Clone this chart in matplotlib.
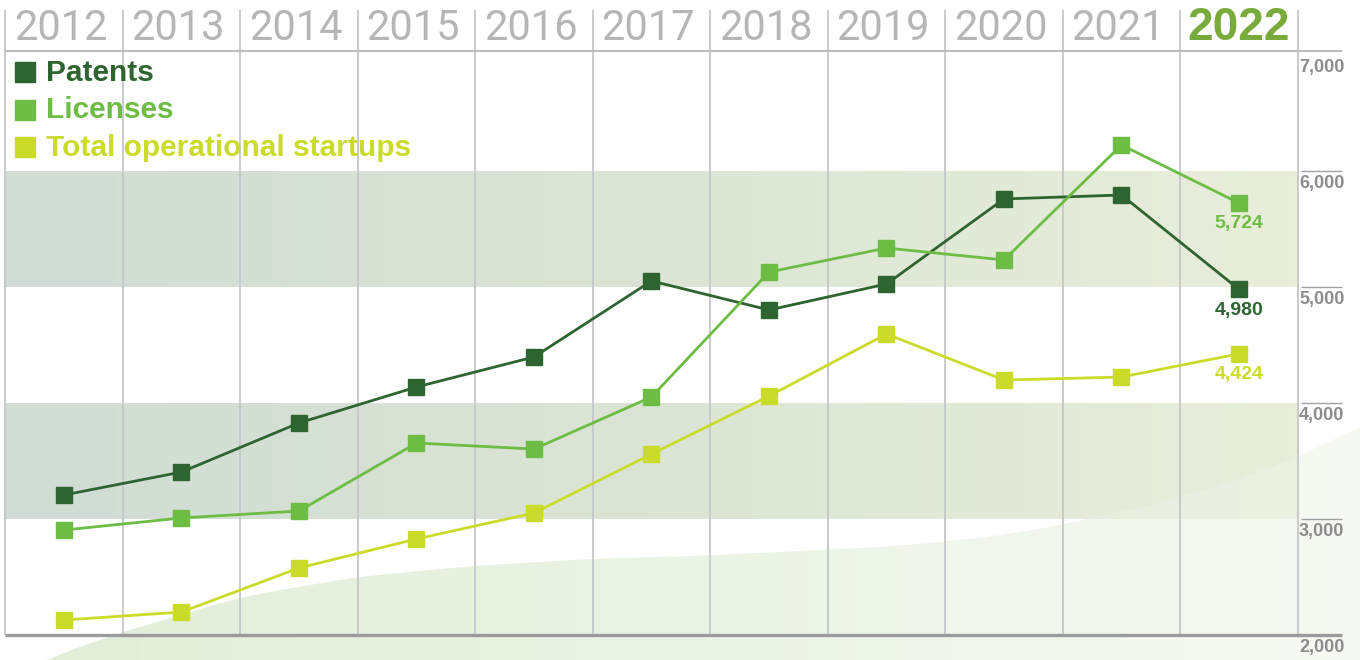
import numpy as np
import matplotlib
matplotlib.use("Agg")
import matplotlib.pyplot as plt
from matplotlib.colors import LinearSegmentedColormap
from matplotlib.patches import Polygon

# data
years = list(range(2012, 2023))
patents = [3207, 3405, 3828, 4138, 4397, 5052, 4802, 5026, 5759, 5793, 4980]
licenses = [2905, 3009, 3069, 3655, 3603, 4052, 5129, 5336, 5233, 6224, 5724]
startups = [2129, 2198, 2578, 2828, 3052, 3560, 4060, 4595, 4198, 4224, 4424]
series_names = ["Patents", "Licenses", "Total operational startups"]
yticks = [2000, 3000, 4000, 5000, 6000, 7000]
bands = [(3000, 4000), (5000, 6000)]

colors = ["#2d6430", "#6dbd45", "#cbdb2a"]
grey_txt = "#8c8c8e"
year_grey = "#b6b6b9"
hi_green = "#79ab3c"


# pixel helpers for the layout (1360x660 canvas)
def px_x(p):
    return 2012 + (p - 64) / 117.5


def px_y(p):
    return 2000 + (635 - p) / 0.116


fig = plt.figure(figsize=(13.6, 6.6), dpi=100)
ax = fig.add_axes([0, 0, 1, 1])
ax.axis("off")

# background swoosh
sx = np.array([20, 45, 107, 241, 357, 473, 591, 700, 900, 1000, 1062, 1180, 1280, 1360, 1420])
sy = np.array([672, 660, 637, 597, 577, 566, 559, 556, 546, 536, 525, 498, 465, 427, 400])
xx = np.linspace(20, 1420, 600)
yy = np.interp(xx, sx, sy)
k = np.ones(31) / 31
yy = np.convolve(np.pad(yy, 15, mode="edge"), k, mode="valid")
poly = np.column_stack([px_x(xx), px_y(yy)])
poly = np.vstack([poly, [[px_x(1420), px_y(700)], [px_x(20), px_y(700)]]])
swoosh_cmap = LinearSegmentedColormap.from_list("sw", ["#e2eed7", "#ecf4e6", "#f8faf5"])
grad = np.linspace(0, 1, 256)[None, :]
for z, a in [(0.5, 1.0), (1.5, 0.35)]:
    patch = Polygon(poly, closed=True, facecolor="none", edgecolor="none")
    ax.add_patch(patch)
    im = ax.imshow(grad, cmap=swoosh_cmap, extent=(px_x(20), px_x(1420), px_y(700), px_y(380)),
                   aspect="auto", zorder=z, alpha=a)
    im.set_clip_path(patch)

# shaded bands
band_cmap = LinearSegmentedColormap.from_list("bd", ["#d0dcd4", "#dce5d5", "#e8eeda"])
for lo, hi in bands:
    ax.imshow(grad, cmap=band_cmap, extent=(2011.5, 2022.5, lo, hi), aspect="auto", zorder=1)

# column dividers
bounds = np.arange(2011.5, 2023.0, 1.0)
ax.vlines(bounds, 2000, px_y(10), color="#c6c6c9", lw=1.3, zorder=2)
ax.hlines(px_y(51), px_x(5), px_x(1342), color="#bdbdc0", lw=1.5, zorder=2)
ax.hlines(2000, px_x(5), px_x(1342), color="#9b9b9d", lw=2.4, zorder=3)

# right axis labels
for v in yticks:
    if v not in (2000, 7000):
        ax.hlines(v, px_x(1301), px_x(1342), color="#a0a0a2", lw=1.0, zorder=2)
    ax.annotate(f"{v:,}", (px_x(1299), v), xytext=(0, -9), textcoords="offset points",
                ha="left", va="center", fontsize=13, fontweight="bold", color=grey_txt,
                family="Liberation Sans")

# year headers
for y in years:
    if y == 2022:
        ax.text(y, px_y(28), str(y), ha="center", va="center", fontsize=33,
                fontweight="bold", color=hi_green, family="Liberation Sans")
    else:
        ax.text(y - 0.03, px_y(29), str(y), ha="center", va="center", fontsize=30,
                fontweight="normal", color=year_grey, family="Roboto")

# series
for vals, c in zip([patents, licenses, startups], colors):
    ax.plot(years, vals, color=c, lw=2, marker="s", ms=11.5, mec=c, mfc=c, zorder=4)
    ax.annotate(f"{vals[-1]:,}", (years[-1], vals[-1]), xytext=(0, -15),
                textcoords="offset points", ha="center", va="center", fontsize=14,
                fontweight="bold", color=c, family="Liberation Sans", zorder=5)

# legend
for i, (name, c) in enumerate(zip(series_names, colors)):
    yp = 72 + 37.5 * i
    ax.plot(px_x(25), px_y(yp), marker="s", ms=15, color=c, zorder=5)
    ax.text(px_x(46), px_y(yp + 1), name, ha="left", va="center", fontsize=21.5,
            fontweight="bold", color=c, family="Liberation Sans", zorder=5)

ax.set_xlim(px_x(0), px_x(1360))
ax.set_ylim(px_y(660), px_y(0))

fig.savefig("out.png", dpi=100)
